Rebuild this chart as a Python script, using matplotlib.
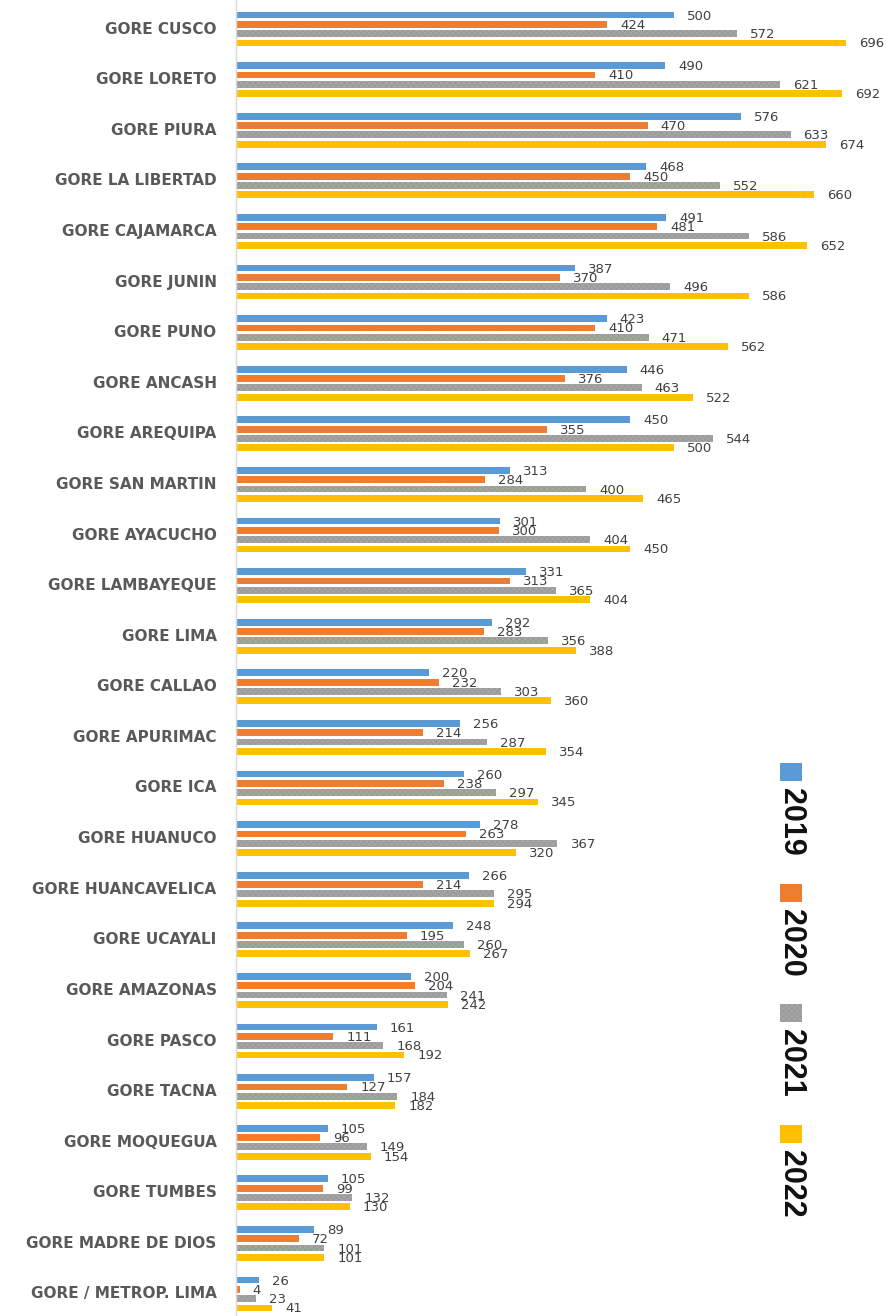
import matplotlib
matplotlib.use("Agg")
import matplotlib.pyplot as plt
from matplotlib.patches import Rectangle
import numpy as np

categories = ["GORE CUSCO", "GORE LORETO", "GORE PIURA", "GORE LA LIBERTAD",
              "GORE CAJAMARCA", "GORE JUNIN", "GORE PUNO", "GORE ANCASH",
              "GORE AREQUIPA", "GORE SAN MARTIN", "GORE AYACUCHO",
              "GORE LAMBAYEQUE", "GORE LIMA", "GORE CALLAO", "GORE APURIMAC",
              "GORE ICA", "GORE HUANUCO", "GORE HUANCAVELICA", "GORE UCAYALI",
              "GORE AMAZONAS", "GORE PASCO", "GORE TACNA", "GORE MOQUEGUA",
              "GORE TUMBES", "GORE MADRE DE DIOS", "GORE / METROP. LIMA"]

v2019 = [500, 490, 576, 468, 491, 387, 423, 446, 450, 313, 301, 331, 292, 220,
         256, 260, 278, 266, 248, 200, 161, 157, 105, 105, 89, 26]
v2020 = [424, 410, 470, 450, 481, 370, 410, 376, 355, 284, 300, 313, 283, 232,
         214, 238, 263, 214, 195, 204, 111, 127, 96, 99, 72, 4]
v2021 = [572, 621, 633, 552, 586, 496, 471, 463, 544, 400, 404, 365, 356, 303,
         287, 297, 367, 295, 260, 241, 168, 184, 149, 132, 101, 23]
v2022 = [696, 692, 674, 660, 652, 586, 562, 522, 500, 465, 450, 404, 388, 360,
         354, 345, 320, 294, 267, 242, 192, 182, 154, 130, 101, 41]

series_names = ["2019", "2020", "2021", "2022"]
series = [v2019, v2020, v2021, v2022]
colors = ["#5B9BD5", "#ED7D31", "#A5A5A5", "#FFC000"]

W, H = 886, 1316
fig = plt.figure(figsize=(W / 100, H / 100), dpi=100)
ax = fig.add_axes([236 / W, 0, 1 - 236 / W, 1])

plt.rcParams['hatch.linewidth'] = 0.5
HATCH_EC = "#979797"

y = np.arange(len(categories))
pitch = 0.184
bh = 0.135
for k, (name, vals, col) in enumerate(zip(series_names, series, colors)):
    pos = y + (k - 1.5) * pitch
    if name == "2021":
        ax.barh(pos, vals, height=bh, color=col, edgecolor=HATCH_EC,
                linewidth=0, hatch="xxxxxx")
    else:
        ax.barh(pos, vals, height=bh, color=col, linewidth=0)
    for p, v in zip(pos, vals):
        ax.annotate(str(v), (v, p), xytext=(13, -1), textcoords="offset pixels",
                    ha="left", va="center", fontsize=9.5, color="#404040",
                    annotation_clip=False)

ax.set_xlim(0, 650 / 0.876)
ax.set_ylim((H - 29) / 50.6, -29 / 50.6)
for s in ["top", "right", "bottom"]:
    ax.spines[s].set_visible(False)
ax.spines["left"].set_color("#D9D9D9")
ax.spines["left"].set_linewidth(1)
ax.set_xticks([])
ax.set_yticks(y)
ax.set_yticklabels(categories, fontsize=11, fontweight="bold", color="#595959")
ax.tick_params(axis="y", length=0, pad=14)
for lbl in ax.get_yticklabels():
    lbl.set_va("center")

# Vertical legend on the right
leg_sq_y = [772, 893, 1013, 1134]
for name, col, sy in zip(series_names, colors, leg_sq_y):
    if name == "2021":
        kw = dict(hatch="xxxxxx", edgecolor=HATCH_EC, linewidth=0)
    else:
        kw = dict(linewidth=0)
    r = Rectangle(((791 - 11) / W, 1 - (sy + 9) / H), 22 / W, 18 / H,
                  transform=fig.transFigure, facecolor=col, **kw)
    fig.patches.append(r)
    fig.text(791 / W, 1 - (sy + 50) / H, name, rotation=-90, ha="center",
             va="center", fontsize=22, fontweight="bold", color="#111111",
             family=["Liberation Sans", "DejaVu Sans"])

fig.savefig("out.png", dpi=100, facecolor="white")
